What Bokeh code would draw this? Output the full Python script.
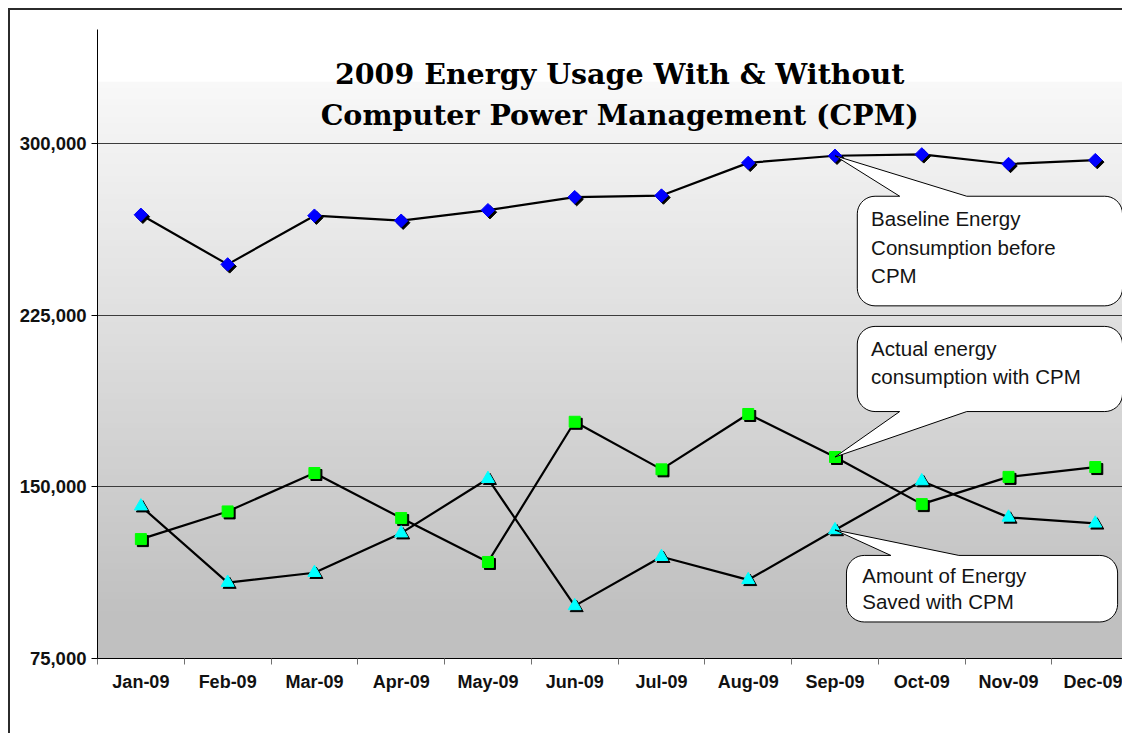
import numpy as np
from bokeh.plotting import figure
from bokeh.layouts import column, row
from bokeh.models import (ColumnDataSource, FixedTicker, NumeralTickFormatter,
                          Range1d, BoxAnnotation, Label, Spacer)
from bokeh.transform import dodge
from bokeh.embed import file_html
from bokeh.resources import INLINE

# ---------------- data ----------------
months = ["Jan-09", "Feb-09", "Mar-09", "Apr-09", "May-09", "Jun-09",
          "Jul-09", "Aug-09", "Sep-09", "Oct-09", "Nov-09", "Dec-09"]
baseline = [269000, 247300, 268600, 266400, 271000, 276700,
            277400, 291700, 294800, 295400, 291200, 292900]
actual = [127200, 139300, 156100, 136400, 117200, 178500,
          157700, 181900, 163100, 142500, 154400, 158700]
saved = [141600, 108200, 112500, 129800, 153600, 98000,
         119500, 109400, 131200, 152600, 136700, 134100]
y_ticks = [75000, 150000, 225000, 300000]
title_lines = ["2009 Energy Usage With & Without",
               "Computer Power Management (CPM)"]
callout_texts = [["Baseline Energy", "Consumption before", "CPM"],
                 ["Actual energy", "consumption with CPM"],
                 ["Amount of Energy", "Saved with CPM"]]

# ---------------- layout ----------------
TOTAL_W, TOTAL_H = 1124, 735
SX, SY = TOTAL_W / 1140.0, TOTAL_H / 751.0
PAD, BORDER = 8, 2
W, H = TOTAL_W - PAD - BORDER, TOTAL_H - PAD - BORDER
ML, MT, MB, MR = 87, 19, 77, 0
Y_MIN, Y_MAX = 75000, 350000
CAT_PX = 88.0 * SX
frame_w = W - ML - MR
frame_h = H - MT - MB
x_start = -0.5
x_end = x_start + frame_w / CAT_PX
ypp = (Y_MAX - Y_MIN) / frame_h
OX = OY = PAD + BORDER


def dx(px):
    return x_start + (px * SX - OX - ML) / CAT_PX


def dy(py):
    return Y_MAX - (py * SY - OY - MT) * ypp


p = figure(width=W, height=H, output_backend="svg", toolbar_location=None,
           x_range=Range1d(x_start, x_end), y_range=Range1d(Y_MIN, Y_MAX),
           min_border_left=ML, min_border_top=MT, min_border_bottom=MB,
           min_border_right=MR, background_fill_color="white",
           border_fill_color="white", outline_line_color=None)
p.styles = {"border-left": "2px solid #2b2b2b", "border-top": "2px solid #2b2b2b"}

# background gradient (banded like the original)
band_edges = np.arange(30, 680, 6)
for i in range(len(band_edges) - 1):
    y0, y1 = band_edges[i], band_edges[i + 1]
    mid = (y0 + y1) / 2
    if mid < 85:
        g = 255
    elif mid > 628:
        g = 192
    else:
        g = 248 - (248 - 192) * (mid - 85) / (628 - 85)
    g = int(round(g))
    col = "#%02x%02x%02x" % (g, g, g)
    p.add_layout(BoxAnnotation(top=dy(y0 - 1), bottom=dy(y1), fill_color=col,
                               fill_alpha=1.0, line_color=None, level="image"))

# axes
p.yaxis.ticker = FixedTicker(ticks=y_ticks)
p.yaxis.formatter = NumeralTickFormatter(format="0,0")
p.yaxis.major_label_text_font = "Liberation Sans"
p.yaxis.major_label_text_font_style = "bold"
p.yaxis.major_label_text_font_size = "18.5px"
p.yaxis.major_label_text_color = "#111111"
p.yaxis.major_tick_out = 6
p.yaxis.major_tick_in = 0
p.yaxis.minor_tick_out = 0
p.yaxis.axis_line_color = "black"
p.yaxis.major_tick_line_color = "black"
p.yaxis.major_label_standoff = 5

p.xaxis.ticker = FixedTicker(ticks=list(range(len(months))),
                             minor_ticks=[i + 0.5 for i in range(-1, len(months))])
p.xaxis.major_label_overrides = {i: m for i, m in enumerate(months)}
p.xaxis.major_label_text_font = "Liberation Sans"
p.xaxis.major_label_text_font_style = "bold"
p.xaxis.major_label_text_font_size = "18px"
p.xaxis.major_label_text_color = "#111111"
p.xaxis.major_tick_out = 0
p.xaxis.major_tick_in = 0
p.xaxis.minor_tick_out = 6
p.xaxis.minor_tick_in = 0
p.xaxis.minor_tick_line_color = "#707070"
p.xaxis.axis_line_color = "black"
p.xaxis.major_label_standoff = 7

p.ygrid.ticker = FixedTicker(ticks=y_ticks)
p.ygrid.grid_line_color = "#3c3c3c"
p.ygrid.grid_line_width = 1
p.xgrid.grid_line_color = None

# series
src = ColumnDataSource(dict(x=list(range(len(months))), baseline=baseline,
                            actual=actual, saved=saved))
sx = 2.0 / CAT_PX
sy = -2.0 * ypp
for field in ["baseline", "actual", "saved"]:
    p.line("x", field, source=src, line_color="black", line_width=2.2)

p.scatter(dodge("x", sx), dodge("baseline", sy), source=src, marker="square",
          angle=np.pi / 4, size=9.5, fill_color="black", line_color="black")
p.scatter("x", "baseline", source=src, marker="square", angle=np.pi / 4,
          size=9.5, fill_color="#0000ff", line_color="#0000ff")
p.scatter(dodge("x", sx), dodge("actual", sy), source=src, marker="square",
          size=11, fill_color="black", line_color="black")
p.scatter("x", "actual", source=src, marker="square", size=11,
          fill_color="#00ff00", line_color="#00ff00")
p.scatter(dodge("x", sx), dodge("saved", sy), source=src, marker="triangle",
          size=13, fill_color="black", line_color="black")
p.scatter("x", "saved", source=src, marker="triangle", size=13,
          fill_color="#00ffff", line_color="#00ffff")


# callouts
def rounded_callout(l, t, r, b, rad, side, b1, b2, apex):
    pts = []

    def arc(cx, cy, a0, a1):
        for a in np.linspace(np.radians(a0), np.radians(a1), 10):
            pts.append((cx + rad * np.cos(a), cy + rad * np.sin(a)))

    arc(l + rad, t + rad, 180, 270)
    if side == "top":
        pts.append((b1, t)); pts.append(None); pts.append((b2, t))
    arc(r - rad, t + rad, 270, 360)
    arc(r - rad, b - rad, 0, 90)
    if side == "bottom":
        pts.append((b2, b)); pts.append(None); pts.append((b1, b))
    arc(l + rad, b - rad, 90, 180)
    xs, ys = [], []
    for pt in pts:
        if pt is None:
            xs.append(apex[0]); ys.append(apex[1])
        else:
            xs.append(dx(pt[0])); ys.append(dy(pt[1]))
    return xs, ys


sep = months.index("Sep-09")
callouts = [
    dict(box=(869, 200, 1138, 312), side="top", base=(912, 980),
         apex=(sep, baseline[sep]), tx=883, ty=[223, 252, 281],
         texts=callout_texts[0]),
    dict(box=(869, 333, 1138, 420), side="bottom", base=(912, 980),
         apex=(sep, actual[sep]), tx=883, ty=[356, 384],
         texts=callout_texts[1]),
    dict(box=(858, 567, 1133, 635), side="top", base=(903, 972),
         apex=(sep, saved[sep]), tx=874, ty=[588, 614],
         texts=callout_texts[2]),
]
for c in callouts:
    l, t, r, b = c["box"]
    xs, ys = rounded_callout(l, t, r, b, 18, c["side"], c["base"][0],
                             c["base"][1], c["apex"])
    p.patch(xs, ys, fill_color="white", line_color="black", line_width=1)
    for txt, ty in zip(c["texts"], c["ty"]):
        p.add_layout(Label(x=dx(c["tx"]), y=dy(ty), text=txt,
                           text_font="Liberation Sans", text_font_size="20.5px",
                           text_color="#141414", text_baseline="middle",
                           text_align="left"))

# title
for txt, by in zip(title_lines, [75, 117]):
    p.add_layout(Label(x=dx(628), y=dy(by), text=txt, text_font="DejaVu Serif",
                       text_font_style="bold", text_font_size="28.5px",
                       text_color="black", text_align="center",
                       text_baseline="alphabetic"))

layout = column(Spacer(width=TOTAL_W, height=PAD),
                row(Spacer(width=PAD, height=TOTAL_H - PAD), p))
open("out.html", "w").write(file_html(layout, INLINE))
